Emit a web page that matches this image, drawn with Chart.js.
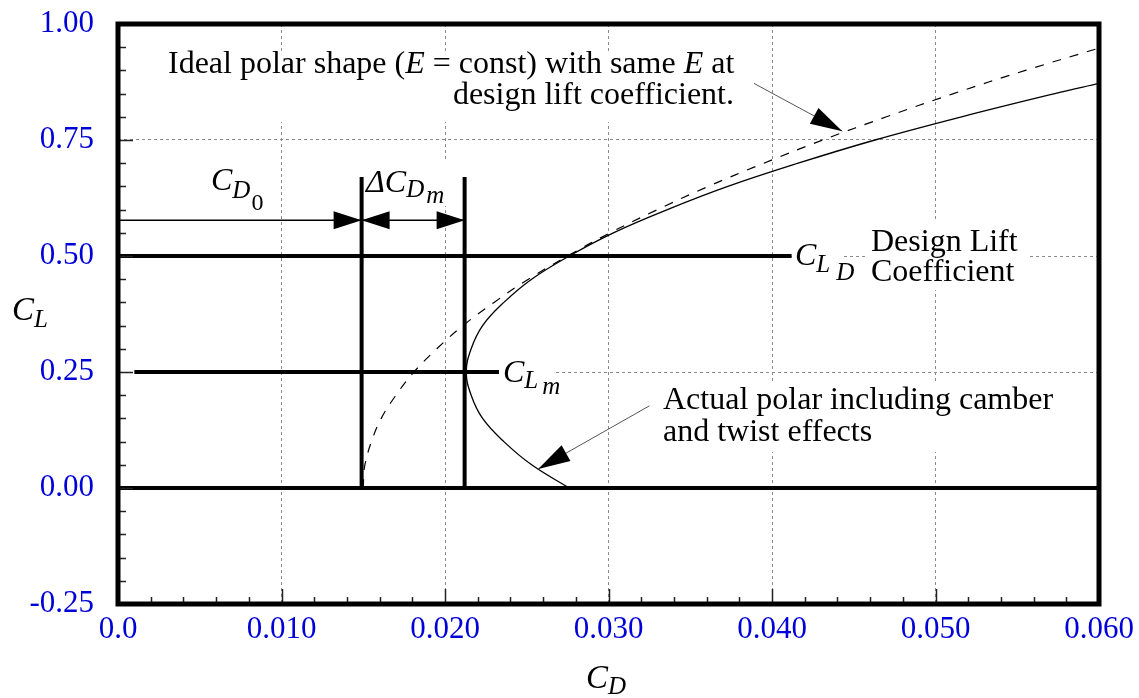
<!DOCTYPE html>
<html>
<head>
<meta charset="utf-8">
<script src="https://cdn.jsdelivr.net/npm/chart.js@4.4.0/dist/chart.umd.min.js"></script>
<style>
  html, body { margin: 0; padding: 0; background: #fff; }
  #wrap { width: 1139px; height: 698px; position: relative; }
</style>
</head>
<body>
<div id="wrap"><canvas id="polar"></canvas></div>
<script>
// Wing drag polar: lift coefficient C_L against drag coefficient C_D
const xTickLabels = ['0.0', '0.010', '0.020', '0.030', '0.040', '0.050', '0.060'];
const yTickLabels = ['-0.25', '0.00', '0.25', '0.50', '0.75', '1.00'];

// ideal parabolic polar (E = const)
const idealCL = [0, 0.025, 0.05, 0.10, 0.15, 0.20, 0.25, 0.30, 0.35, 0.40, 0.45, 0.50, 0.55, 0.60, 0.65, 0.70, 0.75, 0.80, 0.85, 0.90, 0.948];
const idealCD = [0.0150, 0.01503, 0.0151, 0.0155, 0.0161, 0.0170, 0.0181, 0.0195, 0.0211, 0.0230, 0.0251, 0.0275, 0.0301, 0.0330, 0.0361, 0.0395, 0.0431, 0.0470, 0.0511, 0.0555, 0.0600];

// actual polar with camber and twist
const actualCL = [0, 0.05, 0.10, 0.15, 0.20, 0.25, 0.30, 0.35, 0.40, 0.45, 0.50, 0.55, 0.60, 0.65, 0.70, 0.75, 0.80, 0.85, 0.872];
const actualCD = [0.0276, 0.0253, 0.0236, 0.0223, 0.0216, 0.0213, 0.0216, 0.0223, 0.0236, 0.0253, 0.0276, 0.0303, 0.0336, 0.0373, 0.0416, 0.0463, 0.0516, 0.0573, 0.0600];

// heavy reference lines
const zeroLineCD = [0, 0.060];
const zeroLineCL = [0, 0];
const designLineCD = [0, 0.0412];
const designLineCL = [0.5, 0.5];
const minLineCD = [0.001, 0.0233];
const minLineCL = [0.25, 0.25];
const cd0LineCD = [0.0149, 0.0149];
const cdmLineCD = [0.0212, 0.0212];
const markerLineCL = [0, 0.67];

// dimension line for C_D0 and delta C_Dm
const dimCD = [0, 0.0149, 0.0212];
const dimCL = [0.577, 0.577, 0.577];

// pointer arrows to the two curves: [tail, tip] in (C_D, C_L)
const idealPointer = [[0.0389, 0.872], [0.0443, 0.769]];
const actualPointer = [[0.0325, 0.177], [0.0257, 0.041]];

const SERIF = '"Liberation Serif", "Times New Roman", serif';
const BLUE = '#0000d8';

const pts = (xs, ys) => xs.map((x, i) => ({ x, y: ys[i] }));

function heavy(xs, ys) {
    return {
        data: pts(xs, ys),
        showLine: true,
        borderColor: '#000',
        borderWidth: 4,
        pointRadius: 0,
        tension: 0,
        borderCapStyle: 'butt'
    };
}

// text made of runs: {t, size, italic, dy}
function rich(ctx, x, y, runs) {
    runs.forEach(r => {
        ctx.font = (r.italic ? 'italic ' : '') + r.size + 'px ' + SERIF;
        x += r.dx || 0;
        ctx.fillText(r.t, x, y + (r.dy || 0));
        x += ctx.measureText(r.t).width;
    });
}

function arrowHead(ctx, tx, ty, angle, len, half) {
    ctx.save();
    ctx.translate(tx, ty);
    ctx.rotate(angle);
    ctx.beginPath();
    ctx.moveTo(0, 0);
    ctx.lineTo(-len, -half);
    ctx.lineTo(-len, half);
    ctx.closePath();
    ctx.fill();
    ctx.restore();
}

const decor = {
    id: 'decor',
    beforeDatasetsDraw(chart) {
        // white panels behind the captions cut the grid lines
        const ctx = chart.ctx;
        ctx.save();
        ctx.fillStyle = '#fff';
        [[160, 52, 600, 70], [364, 162, 88, 44], [792, 236, 52, 50], [868, 222, 160, 68],
         [500, 352, 55, 48], [655, 382, 440, 70]].forEach(b => ctx.fillRect(b[0], b[1], b[2], b[3]));
        ctx.restore();
    },
    afterDatasetsDraw(chart) {
        const ctx = chart.ctx;
        const xs = chart.scales.x, ys = chart.scales.y;
        const a = chart.chartArea;
        ctx.save();
        ctx.fillStyle = '#000';

        // dimension arrow heads
        const yDim = ys.getPixelForValue(dimCL[0]);
        arrowHead(ctx, xs.getPixelForValue(dimCD[1]), yDim, 0, 28, 9);
        arrowHead(ctx, xs.getPixelForValue(dimCD[1]), yDim, Math.PI, 28, 9);
        arrowHead(ctx, xs.getPixelForValue(dimCD[2]), yDim, 0, 28, 9);

        // pointers to the curves
        [idealPointer, actualPointer].forEach(p => {
            const x0 = xs.getPixelForValue(p[0][0]), y0 = ys.getPixelForValue(p[0][1]);
            const x1 = xs.getPixelForValue(p[1][0]), y1 = ys.getPixelForValue(p[1][1]);
            ctx.strokeStyle = '#555';
            ctx.lineWidth = 1;
            ctx.beginPath();
            ctx.moveTo(x0, y0);
            ctx.lineTo(x1, y1);
            ctx.stroke();
            arrowHead(ctx, x1, y1, Math.atan2(y1 - y0, x1 - x0), 32, 9);
        });

        // inward tick marks
        ctx.strokeStyle = '#222';
        ctx.lineWidth = 1.5;
        ctx.beginPath();
        for (let i = 0; i <= 25; i++) {
            const v = -0.25 + i * 0.05;
            const y = Math.round(ys.getPixelForValue(v)) + 0.5;
            const len = i % 5 === 0 ? 15 : 8;
            ctx.moveTo(a.left, y);
            ctx.lineTo(a.left + len, y);
        }
        for (let i = 0; i <= 30; i++) {
            const x = Math.round(xs.getPixelForValue(i * 0.002)) + 0.5;
            const len = i % 5 === 0 ? 15 : 7;
            ctx.moveTo(x, a.bottom);
            ctx.lineTo(x, a.bottom - len);
        }
        ctx.stroke();

        // frame
        ctx.lineWidth = 5;
        ctx.strokeStyle = '#000';
        ctx.strokeRect(a.left, a.top, a.right - a.left, a.bottom - a.top);

        // captions
        ctx.fillStyle = '#000';
        ctx.textBaseline = 'alphabetic';
        ctx.textAlign = 'left';
        const F = 32;
        rich(ctx, 168, 73, [{ t: 'Ideal polar shape (', size: F }, { t: 'E', size: F, italic: true },
            { t: ' = const) with same ', size: F }, { t: 'E', size: F, italic: true }, { t: ' at', size: F }]);
        ctx.textAlign = 'right';
        ctx.font = F + 'px ' + SERIF;
        ctx.fillText('design lift coefficient.', 734, 104);
        ctx.textAlign = 'left';
        ctx.fillText('Design Lift', 871, 251);
        ctx.fillText('Coefficient', 871, 281);
        ctx.fillText('Actual polar including camber', 663, 409);
        ctx.fillText('and twist effects', 663, 441);

        rich(ctx, 211, 190, [{ t: 'C', size: 32, italic: true }, { t: 'D', size: 25, italic: true, dy: 8 },
            { t: '0', size: 24, dy: 20, dx: 1 }]);
        rich(ctx, 366, 192, [{ t: 'ΔC', size: 32, italic: true }, { t: 'D', size: 25, italic: true, dy: 5 },
            { t: 'm', size: 25, italic: true, dy: 11, dx: 2 }]);
        rich(ctx, 795, 265, [{ t: 'C', size: 32, italic: true }, { t: 'L', size: 25, italic: true, dy: 7 },
            { t: 'D', size: 25, italic: true, dy: 15, dx: 6 }]);
        rich(ctx, 503, 382, [{ t: 'C', size: 32, italic: true }, { t: 'L', size: 25, italic: true, dy: 6 },
            { t: 'm', size: 25, italic: true, dy: 12, dx: 4 }]);

        // axis titles
        rich(ctx, 12, 320, [{ t: 'C', size: 33, italic: true }, { t: 'L', size: 25, italic: true, dy: 7 }]);
        rich(ctx, 586, 688, [{ t: 'C', size: 33, italic: true }, { t: 'D', size: 25, italic: true, dy: 6 }]);
        ctx.restore();
    }
};

new Chart(document.getElementById('polar'), {
    type: 'scatter',
    data: {
        datasets: [
            heavy(zeroLineCD, zeroLineCL),
            heavy(designLineCD, designLineCL),
            heavy(minLineCD, minLineCL),
            heavy(cd0LineCD, markerLineCL),
            heavy(cdmLineCD, markerLineCL),
            {
                data: pts(dimCD, dimCL),
                showLine: true,
                borderColor: '#000',
                borderWidth: 1.3,
                pointRadius: 0,
                tension: 0
            },
            {
                label: 'Ideal polar',
                data: pts(idealCD, idealCL),
                showLine: true,
                borderColor: '#000',
                borderWidth: 1.2,
                borderDash: [9, 9],
                pointRadius: 0,
                tension: 0.4
            },
            {
                label: 'Actual polar',
                data: pts(actualCD, actualCL),
                showLine: true,
                borderColor: '#000',
                borderWidth: 1.3,
                pointRadius: 0,
                tension: 0.4
            }
        ]
    },
    options: {
        responsive: true,
        maintainAspectRatio: false,
        animation: false,
        layout: { padding: { top: 24, right: 40, left: 0, bottom: 0 } },
        plugins: {
            legend: { display: false },
            tooltip: { enabled: false }
        },
        scales: {
            x: {
                type: 'linear',
                min: 0,
                max: 0.06,
                afterFit: s => { s.height = 94; s.paddingLeft = 0; s.paddingRight = 0; },
                afterBuildTicks: s => { s.ticks = xTickLabels.map((_, i) => ({ value: i * 0.01 })); },
                ticks: {
                    color: BLUE,
                    font: { family: SERIF, size: 31 },
                    padding: 7,
                    maxRotation: 0,
                    callback: (v, i) => xTickLabels[i]
                },
                grid: { color: '#8a8a8a', lineWidth: 1, drawTicks: false },
                border: { display: false, dash: [3, 3] }
            },
            y: {
                type: 'linear',
                min: -0.25,
                max: 1.0,
                afterFit: s => { s.width = 118; s.paddingTop = 0; s.paddingBottom = 0; },
                afterBuildTicks: s => { s.ticks = yTickLabels.map((_, i) => ({ value: -0.25 + i * 0.25 })); },
                ticks: {
                    color: BLUE,
                    font: { family: SERIF, size: 31 },
                    padding: 24,
                    callback: (v, i) => yTickLabels[i]
                },
                grid: { color: '#8a8a8a', lineWidth: 1, drawTicks: false },
                border: { display: false, dash: [3, 3] }
            }
        }
    },
    plugins: [decor]
});
</script>
</body>
</html>
